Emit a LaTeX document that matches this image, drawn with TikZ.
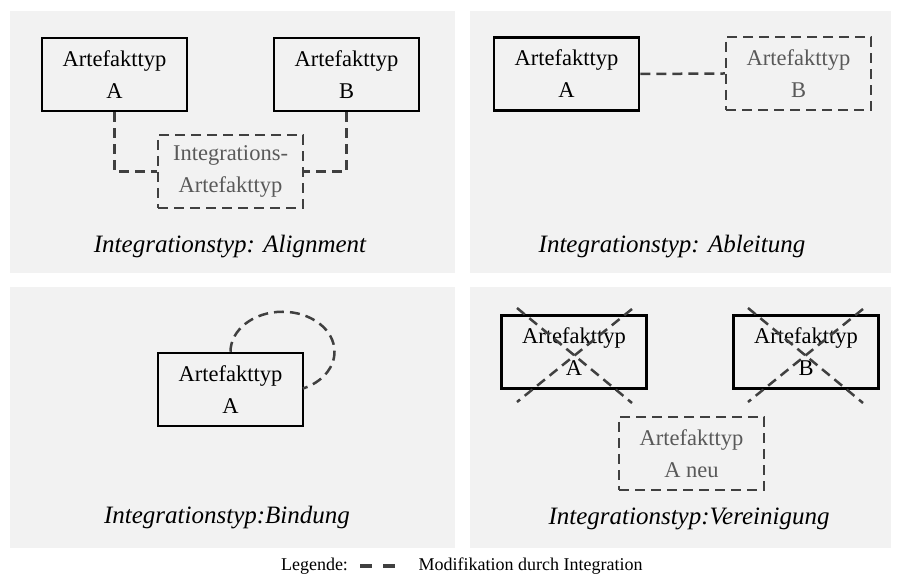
\documentclass[tikz,border=0pt]{standalone}
\usepackage{fontspec}
\setmainfont{Liberation Serif}

\definecolor{panelgray}{HTML}{F2F2F2}
\definecolor{modgray}{HTML}{404040}
\definecolor{modtext}{HTML}{595959}

\begin{document}
\begin{tikzpicture}[x=1pt,y=1pt,
    artefakt/.style={draw=black, line width=2.5pt, minimum width=145pt, minimum height=73pt,
      inner sep=0pt, align=center, font=\fontsize{22.5}{32}\selectfont},
    neuartefakt/.style={artefakt, draw=modgray, text=modtext, dash pattern=on 10pt off 6pt},
    modlinie/.style={draw=modgray, line width=2.5pt, dash pattern=on 10pt off 6pt},
    typtext/.style={font=\fontsize{25}{30}\selectfont\itshape}]
  \useasboundingbox (0,0) rectangle (901,580);
  % panels
  \fill[panelgray] (10,307) rectangle (455,569);
  \fill[panelgray] (470,307) rectangle (891,569);
  \fill[panelgray] (10,32) rectangle (455,293);
  \fill[panelgray] (470,32) rectangle (891,293);

  % Alignment
  \node[artefakt] (alA) at (114.5,505.5) {Artefakttyp\\A};
  \node[artefakt] (alB) at (346.5,505.5) {Artefakttyp\\B};
  \node[neuartefakt] (alI) at (230.5,408.5) {Integrations-\\Artefakttyp};
  \draw[modlinie] (alA.south) |- (alI.west);
  \draw[modlinie] (alB.south) |- (alI.east);
  \node[typtext] (alT) at (230,333) {Integrationstyp: Alignment};

  % Ableitung
  \node[artefakt] (abA) at (566.5,506) {Artefakttyp\\A};
  \node[neuartefakt] (abB) at (798.5,506.5) {Artefakttyp\\B};
  \draw[modlinie] (abA.east) -- (abB.west);
  \node[typtext] (abT) at (672,333) {Integrationstyp: Ableitung};

  % Bindung
  \node[artefakt] (biA) at (230.5,190.5) {Artefakttyp\\A};
  \draw[modlinie] (biA.north) arc[start angle=180, end angle=-67, x radius=52pt, y radius=40pt];
  \node[typtext] (biT) at (227,62) {Integrationstyp:Bindung};

  % Vereinigung
  \node[artefakt] (veA) at (574,228) {Artefakttyp\\A};
  \node[artefakt] (veB) at (806,228) {Artefakttyp\\B};
  \draw[modlinie] ([shift={(-57,44)}]veA.center) -- ([shift={(58,-51)}]veA.center);
  \draw[modlinie] ([shift={(58,43)}]veA.center) -- ([shift={(-57,-50)}]veA.center);
  \draw[modlinie] ([shift={(-58,44)}]veB.center) -- ([shift={(57,-51)}]veB.center);
  \draw[modlinie] ([shift={(57,43)}]veB.center) -- ([shift={(-58,-50)}]veB.center);
  \node[neuartefakt] (veN) at (691.5,126.5) {Artefakttyp\\A neu};
  \node[typtext] (veT) at (689,61) {Integrationstyp:Vereinigung};

  % Legende
  \node[font=\fontsize{18}{20}\selectfont] (leg) at (314.5,14) {Legende:};
  \draw[draw=modgray, line width=3.5pt, dash pattern=on 12pt off 11pt] (360,14) -- (396,14);
  \node[font=\fontsize{18}{20}\selectfont, anchor=west] (legtext) at (415,14) {Modifikation durch Integration};
\end{tikzpicture}
\end{document}
